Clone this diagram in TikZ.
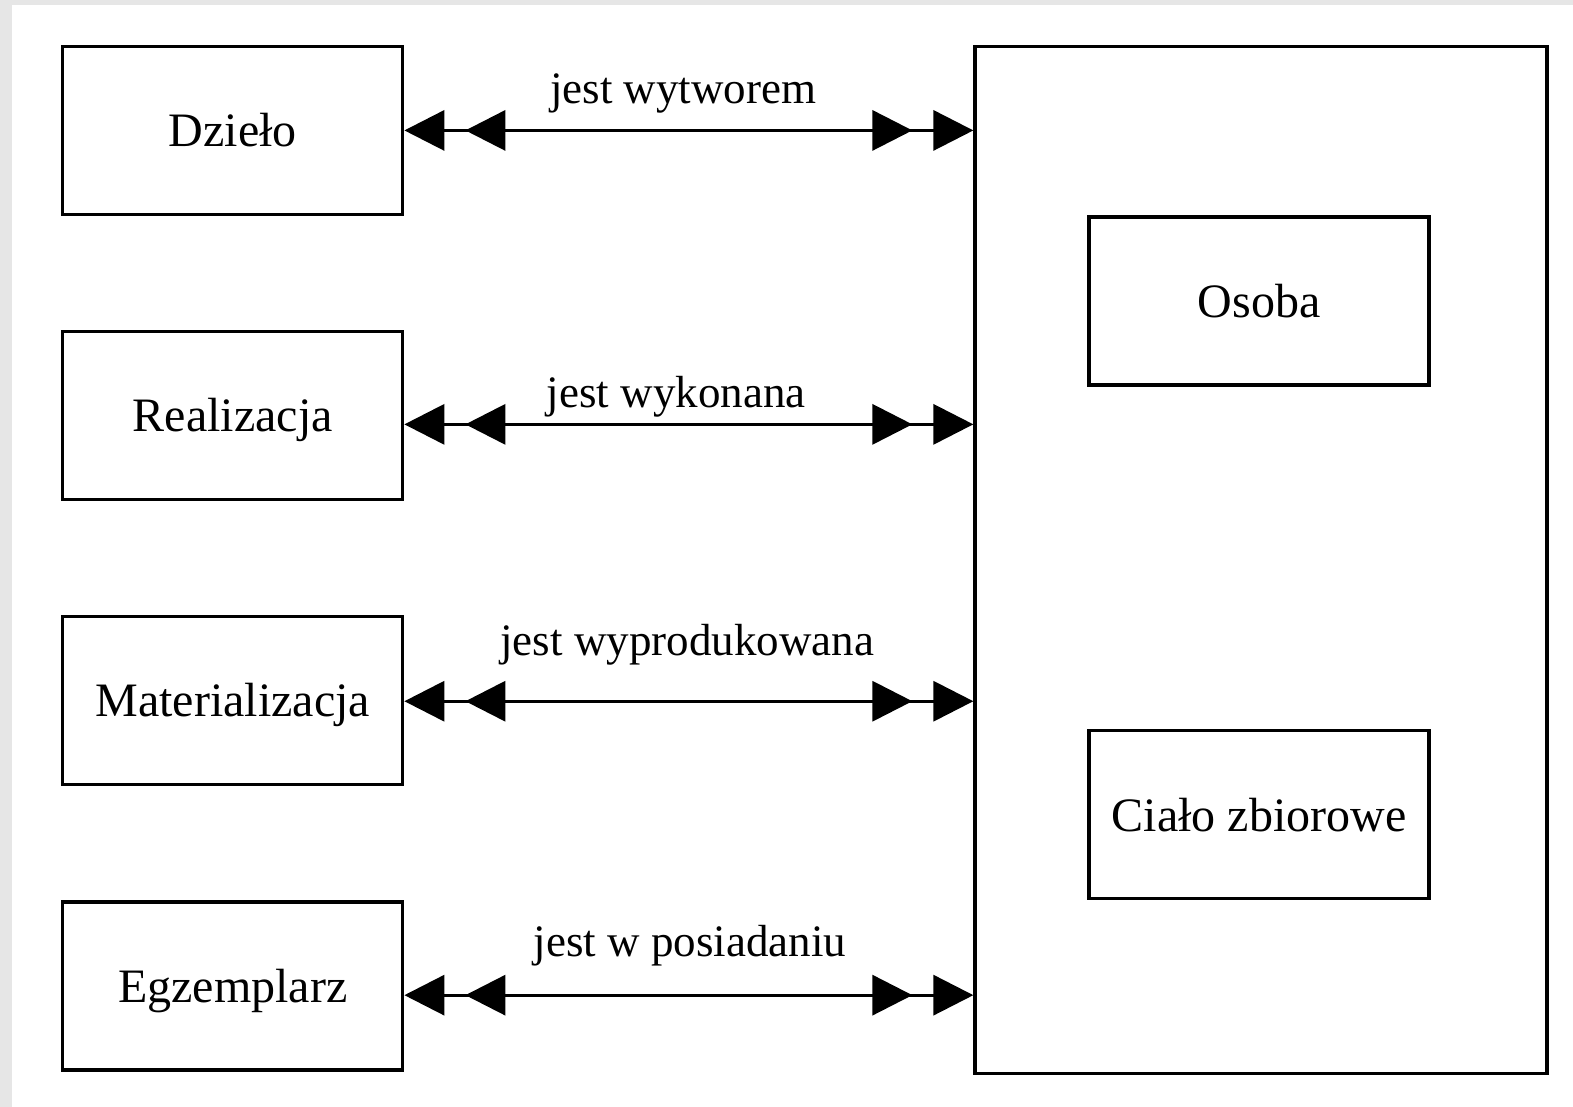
\documentclass[tikz,border=0pt]{standalone}
\usepackage{fontspec}
\setmainfont{Liberation Serif}
\usetikzlibrary{arrows.meta}
\definecolor{edgegrey}{HTML}{E6E6E6}
\begin{document}
\begin{tikzpicture}[x=1.0032pt,y=-1.0032pt,
  entity/.style={draw=black,line width=3.3pt,minimum width=340pt,minimum height=168pt,inner sep=0pt,text height=36pt,text depth=3pt,font=\fontsize{48}{56}\selectfont},
  rel/.style={line width=3.3pt,
    {Triangle[length=40pt,width=40pt]Triangle[length=40pt,width=40pt,sep=21pt]}-{Triangle[length=40pt,width=40pt,sep=21pt]Triangle[length=40pt,width=40pt]}},
  lab/.style={inner sep=0pt,font=\fontsize{45}{50}\selectfont}]
\useasboundingbox (0,0) rectangle (1568,1103);
\fill[white] (0,0) rectangle (1568,1103);
\fill[edgegrey] (0,0) rectangle (1568,5);
\fill[edgegrey] (0,0) rectangle (12,1103);
% big container
\node[draw=black,line width=3.3pt,minimum width=572pt,minimum height=1027pt,inner sep=0pt] (big) at (1257,558) {};
\node[entity] (osoba) at (1255,300) {Osoba};
\node[entity] (cialo) at (1255,812) {Ciało zbiorowe};
% left entities
\node[entity] (dzielo) at (232,130) {Dzieło};
\node[entity] (realizacja) at (232,414) {Realizacja};
\node[entity] (materializacja) at (232,698) {Materializacja};
\node[entity] (egzemplarz) at (232,983) {Egzemplarz};
% relations
\draw[rel] (dzielo.east |- 0,130) -- (big.west |- 0,130);
\draw[rel] (realizacja.east |- 0,423) -- (big.west |- 0,423);
\draw[rel] (materializacja.east |- 0,699) -- (big.west |- 0,699);
\draw[rel] (egzemplarz.east |- 0,992) -- (big.west |- 0,992);
\node[lab] (l1) at (681,93) {jest wytworem};
\node[lab] (l2) at (674,395) {jest wykonana};
\node[lab] (l3) at (685,643) {jest wyprodukowana};
\node[lab] (l4) at (688,943) {jest w posiadaniu};
\end{tikzpicture}
\end{document}
